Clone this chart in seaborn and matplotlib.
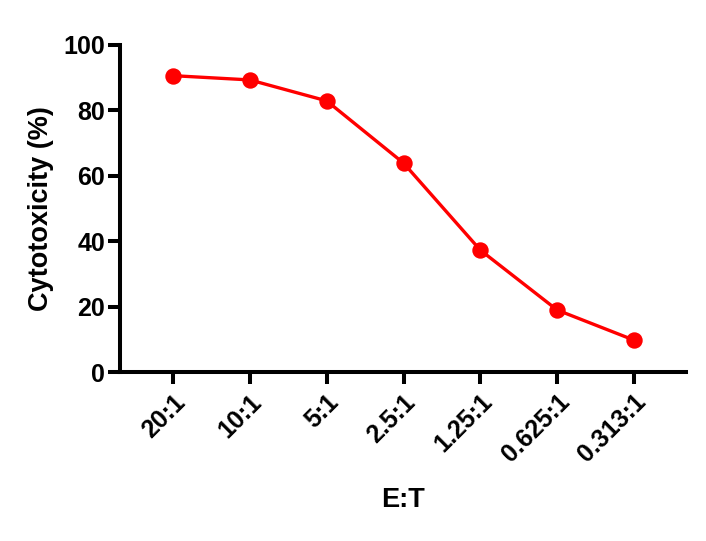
import numpy as np
import pandas as pd
import matplotlib
matplotlib.use("Agg")
import matplotlib.pyplot as plt
import seaborn as sns

# E:T ratios and cytotoxicity
ratios = ["20:1", "10:1", "5:1", "2.5:1", "1.25:1", "0.625:1", "0.313:1"]
cytotox = [90.6, 89.3, 82.9, 63.9, 37.3, 19.0, 9.8]

df = pd.DataFrame({"ratio": ratios, "cyto": cytotox})

sns.set_theme(style="ticks", rc={"text.color": "black", "axes.labelcolor": "black",
                                 "xtick.color": "black", "ytick.color": "black",
                                 "axes.edgecolor": "black"})
plt.rcParams['font.family'] = ['Liberation Sans', 'DejaVu Sans']
plt.rcParams['font.weight'] = 'bold'

fig = plt.figure(figsize=(7.06, 5.41), dpi=100)
ax = fig.add_axes([0.170, 0.312, 0.802, 0.605])

sns.pointplot(data=df, x="ratio", y="cyto", order=ratios, color="#ff0000",
              markers="o", markersize=10, linewidth=2.4, ax=ax)

ax.set_xlim(-0.69, 6.68)
ax.set_ylim(0, 100)
ax.set_yticks([0, 20, 40, 60, 80, 100])
ax.set_xlabel("E:T", fontsize=19.5, fontweight="bold")
ax.set_ylabel("Cytotoxicity (%)", fontsize=19.5, fontweight="bold")
ax.xaxis.set_label_coords(0.5, -0.35)
ax.yaxis.set_label_coords(-0.117, 0.5)

for s in ["top", "right"]:
    ax.spines[s].set_visible(False)
for s in ["left", "bottom"]:
    ax.spines[s].set_linewidth(2.9)
    ax.spines[s].set_color("black")
    ax.spines[s].set_capstyle("projecting")

ax.tick_params(axis="both", width=2.9, length=8.6, color="black",
               labelsize=18, labelcolor="black")
ax.tick_params(axis="x", pad=4)
ax.tick_params(axis="y", pad=2)
plt.setp(ax.get_xticklabels(), rotation=45, ha="right", rotation_mode="anchor",
         fontweight="bold")
plt.setp(ax.get_yticklabels(), fontweight="bold")
ax.grid(False)

fig.savefig("out.png", dpi=100)
